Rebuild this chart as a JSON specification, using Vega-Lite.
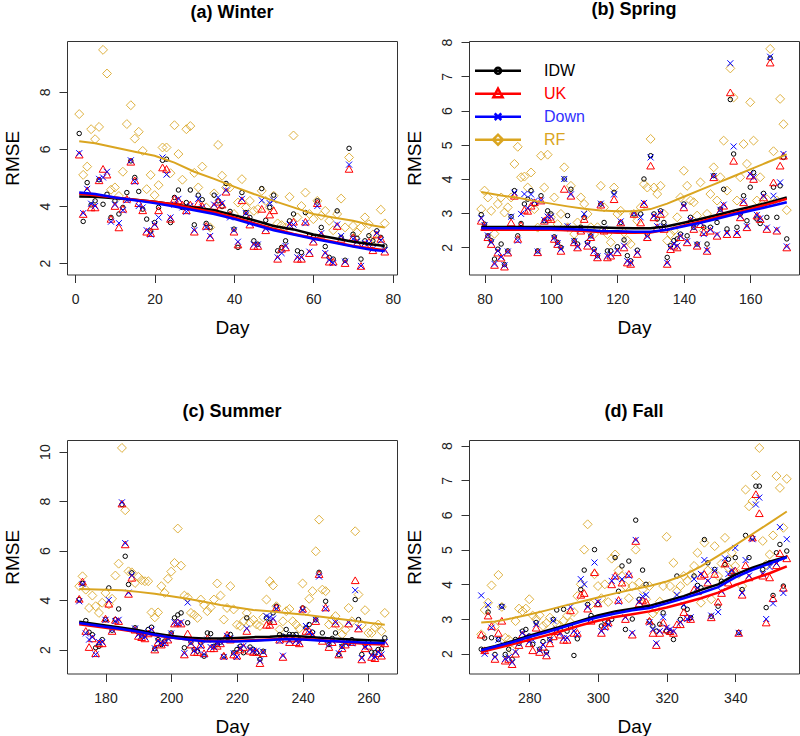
{
"$schema": "https://vega.github.io/schema/vega-lite/v6.json",
"background": "white",
"padding": {"left": 2, "top": 0, "right": 0, "bottom": 0},
"spacing": 64,
"datasets": {
"a": [
{"d":1,"IDW":6.54,"UK":5.80,"Down":5.85,"RF":7.22},{"d":2,"IDW":3.46,"UK":3.72,"Down":3.75,"RF":5.09},{"d":3,"IDW":4.82,"UK":4.55,"Down":4.60,"RF":5.38},{"d":4,"IDW":4.04,"UK":3.95,"Down":4.08,"RF":6.69},{"d":5,"IDW":4.18,"UK":3.95,"Down":4.00,"RF":6.34},{"d":6,"IDW":4.92,"UK":4.90,"Down":4.95,"RF":6.77},{"d":7,"IDW":4.06,"UK":5.30,"Down":5.00,"RF":9.47},{"d":8,"IDW":4.41,"UK":5.10,"Down":5.20,"RF":8.64},{"d":9,"IDW":3.60,"UK":3.55,"Down":3.45,"RF":4.57},{"d":10,"IDW":4.18,"UK":4.00,"Down":4.05,"RF":4.65},
{"d":11,"IDW":3.72,"UK":3.25,"Down":3.40,"RF":4.35},{"d":12,"IDW":3.95,"UK":3.90,"Down":3.85,"RF":5.20},{"d":13,"IDW":4.47,"UK":4.25,"Down":4.20,"RF":6.87},{"d":14,"IDW":5.58,"UK":5.55,"Down":5.60,"RF":7.53},{"d":15,"IDW":5.00,"UK":4.90,"Down":4.85,"RF":6.36},{"d":16,"IDW":4.51,"UK":4.10,"Down":4.00,"RF":6.60},{"d":17,"IDW":3.89,"UK":3.85,"Down":3.95,"RF":5.93},{"d":18,"IDW":3.54,"UK":3.10,"Down":3.15,"RF":4.59},{"d":19,"IDW":3.13,"UK":3.05,"Down":3.00,"RF":5.09},{"d":20,"IDW":3.42,"UK":3.30,"Down":3.35,"RF":4.38},
{"d":21,"IDW":3.95,"UK":3.85,"Down":3.60,"RF":4.73},{"d":22,"IDW":5.60,"UK":5.35,"Down":5.70,"RF":6.05},{"d":23,"IDW":5.64,"UK":5.30,"Down":5.10,"RF":6.05},{"d":24,"IDW":3.42,"UK":3.55,"Down":3.60,"RF":5.15},{"d":25,"IDW":4.30,"UK":4.25,"Down":4.05,"RF":6.83},{"d":26,"IDW":4.56,"UK":4.20,"Down":4.25,"RF":5.82},{"d":27,"IDW":3.95,"UK":4.05,"Down":3.95,"RF":4.92},{"d":28,"IDW":4.12,"UK":3.85,"Down":3.80,"RF":6.69},{"d":29,"IDW":4.56,"UK":4.05,"Down":4.00,"RF":6.80},{"d":30,"IDW":3.34,"UK":3.10,"Down":3.15,"RF":5.16},
{"d":31,"IDW":4.38,"UK":4.10,"Down":4.25,"RF":4.65},{"d":32,"IDW":4.22,"UK":4.00,"Down":3.95,"RF":5.38},{"d":33,"IDW":3.39,"UK":3.30,"Down":3.25,"RF":3.95},{"d":34,"IDW":3.25,"UK":2.90,"Down":2.95,"RF":3.25},{"d":35,"IDW":4.38,"UK":4.00,"Down":4.05,"RF":4.44},{"d":36,"IDW":4.18,"UK":4.15,"Down":4.30,"RF":6.14},{"d":37,"IDW":3.98,"UK":4.05,"Down":4.10,"RF":5.06},{"d":38,"IDW":4.79,"UK":4.50,"Down":4.55,"RF":4.65},{"d":39,"IDW":3.81,"UK":3.70,"Down":3.60,"RF":4.65},{"d":40,"IDW":3.19,"UK":3.10,"Down":3.15,"RF":3.72},
{"d":41,"IDW":2.55,"UK":2.65,"Down":2.75,"RF":4.12},{"d":42,"IDW":4.47,"UK":4.20,"Down":4.25,"RF":4.94},{"d":43,"IDW":3.77,"UK":3.70,"Down":3.75,"RF":3.95},{"d":44,"IDW":3.60,"UK":3.35,"Down":3.40,"RF":4.18},{"d":45,"IDW":2.78,"UK":2.60,"Down":2.65,"RF":3.83},{"d":46,"IDW":2.66,"UK":2.60,"Down":2.65,"RF":3.89},{"d":47,"IDW":4.61,"UK":3.90,"Down":4.20,"RF":4.53},{"d":48,"IDW":3.50,"UK":3.15,"Down":3.20,"RF":4.18},{"d":49,"IDW":3.95,"UK":3.70,"Down":4.10,"RF":3.95},{"d":50,"IDW":4.38,"UK":3.85,"Down":4.20,"RF":4.36},
{"d":51,"IDW":2.43,"UK":2.15,"Down":2.20,"RF":3.39},{"d":52,"IDW":2.55,"UK":2.50,"Down":2.35,"RF":3.33},{"d":53,"IDW":2.78,"UK":2.55,"Down":2.60,"RF":3.25},{"d":54,"IDW":3.48,"UK":3.30,"Down":3.35,"RF":4.32},{"d":55,"IDW":3.72,"UK":3.45,"Down":3.35,"RF":6.47},{"d":56,"IDW":2.43,"UK":2.15,"Down":2.20,"RF":3.60},{"d":57,"IDW":2.37,"UK":2.15,"Down":2.20,"RF":4.00},{"d":58,"IDW":3.77,"UK":3.45,"Down":3.40,"RF":4.47},{"d":59,"IDW":2.96,"UK":2.35,"Down":2.40,"RF":3.72},{"d":60,"IDW":2.90,"UK":2.75,"Down":2.80,"RF":3.54},
{"d":61,"IDW":4.18,"UK":4.10,"Down":4.00,"RF":4.18},{"d":62,"IDW":3.25,"UK":3.00,"Down":3.05,"RF":3.66},{"d":63,"IDW":2.58,"UK":2.30,"Down":2.35,"RF":3.83},{"d":64,"IDW":2.20,"UK":2.05,"Down":2.10,"RF":3.48},{"d":65,"IDW":2.14,"UK":2.05,"Down":2.00,"RF":3.15},{"d":66,"IDW":3.83,"UK":3.30,"Down":3.35,"RF":3.72},{"d":67,"IDW":2.90,"UK":2.85,"Down":2.95,"RF":4.26},{"d":68,"IDW":2.10,"UK":2.00,"Down":2.05,"RF":3.25},{"d":69,"IDW":6.02,"UK":5.30,"Down":5.45,"RF":5.70},{"d":70,"IDW":3.01,"UK":2.90,"Down":2.85,"RF":3.30},
{"d":71,"IDW":2.87,"UK":2.70,"Down":2.75,"RF":3.07},{"d":72,"IDW":2.14,"UK":1.90,"Down":1.90,"RF":3.25},{"d":73,"IDW":2.78,"UK":2.65,"Down":2.70,"RF":3.60},{"d":74,"IDW":2.96,"UK":2.75,"Down":2.70,"RF":3.36},{"d":75,"IDW":2.78,"UK":2.45,"Down":2.50,"RF":3.00},{"d":76,"IDW":3.13,"UK":3.00,"Down":3.05,"RF":2.78},{"d":77,"IDW":2.90,"UK":2.85,"Down":2.80,"RF":3.87},{"d":78,"IDW":2.60,"UK":2.40,"Down":2.45,"RF":3.39}
],
"la": [
{"d":1,"IDW":4.33,"UK":4.43,"Down":4.47,"RF":6.27},{"d":5,"IDW":4.32,"UK":4.38,"Down":4.42,"RF":6.20},{"d":10,"IDW":4.27,"UK":4.30,"Down":4.30,"RF":6.05},{"d":15,"IDW":4.22,"UK":4.22,"Down":4.20,"RF":5.90},{"d":20,"IDW":4.15,"UK":4.15,"Down":4.10,"RF":5.76},{"d":25,"IDW":4.05,"UK":4.05,"Down":3.98,"RF":5.52},{"d":30,"IDW":3.95,"UK":3.90,"Down":3.85,"RF":5.20},{"d":35,"IDW":3.85,"UK":3.78,"Down":3.72,"RF":4.95},{"d":40,"IDW":3.68,"UK":3.60,"Down":3.55,"RF":4.68},{"d":45,"IDW":3.50,"UK":3.40,"Down":3.35,"RF":4.42},{"d":50,"IDW":3.30,"UK":3.20,"Down":3.15,"RF":4.18},{"d":55,"IDW":3.18,"UK":3.02,"Down":3.00,"RF":3.95},{"d":60,"IDW":3.00,"UK":2.88,"Down":2.85,"RF":3.72},{"d":65,"IDW":2.88,"UK":2.75,"Down":2.72,"RF":3.60},{"d":70,"IDW":2.75,"UK":2.60,"Down":2.58,"RF":3.48},{"d":75,"IDW":2.65,"UK":2.50,"Down":2.46,"RF":3.32},{"d":78,"IDW":2.60,"UK":2.45,"Down":2.42,"RF":3.25}
],
"b": [
{"d":79,"IDW":2.96,"UK":2.78,"Down":2.85,"RF":3.12},{"d":80,"IDW":2.68,"UK":2.60,"Down":2.65,"RF":3.66},{"d":81,"IDW":2.34,"UK":2.30,"Down":2.35,"RF":3.46},{"d":82,"IDW":2.20,"UK":2.10,"Down":2.15,"RF":3.07},{"d":83,"IDW":1.66,"UK":1.49,"Down":1.52,"RF":2.40},{"d":84,"IDW":1.95,"UK":1.85,"Down":1.90,"RF":3.27},{"d":85,"IDW":2.10,"UK":1.70,"Down":1.72,"RF":3.46},{"d":86,"IDW":1.50,"UK":1.44,"Down":1.48,"RF":3.02},{"d":87,"IDW":1.90,"UK":1.85,"Down":1.88,"RF":3.17},{"d":88,"IDW":2.90,"UK":2.73,"Down":2.90,"RF":3.46},
{"d":89,"IDW":3.66,"UK":3.51,"Down":3.60,"RF":4.44},{"d":90,"IDW":2.34,"UK":2.25,"Down":2.20,"RF":4.94},{"d":91,"IDW":2.70,"UK":2.65,"Down":2.98,"RF":4.05},{"d":92,"IDW":3.27,"UK":3.10,"Down":3.56,"RF":4.07},{"d":93,"IDW":3.41,"UK":3.07,"Down":3.15,"RF":3.75},{"d":94,"IDW":3.66,"UK":3.22,"Down":3.55,"RF":4.19},{"d":95,"IDW":3.27,"UK":3.32,"Down":3.35,"RF":3.12},{"d":96,"IDW":1.90,"UK":1.86,"Down":1.88,"RF":2.58},{"d":97,"IDW":3.51,"UK":3.37,"Down":3.37,"RF":4.68},{"d":98,"IDW":2.78,"UK":2.78,"Down":2.80,"RF":3.75},
{"d":99,"IDW":3.07,"UK":2.88,"Down":2.90,"RF":4.71},{"d":100,"IDW":2.98,"UK":2.83,"Down":2.90,"RF":2.88},{"d":101,"IDW":2.31,"UK":2.25,"Down":2.28,"RF":3.46},{"d":102,"IDW":2.15,"UK":2.10,"Down":2.12,"RF":2.68},{"d":103,"IDW":2.00,"UK":1.90,"Down":1.95,"RF":2.98},{"d":104,"IDW":4.00,"UK":3.71,"Down":4.00,"RF":4.34},{"d":105,"IDW":2.93,"UK":2.59,"Down":2.62,"RF":2.59},{"d":106,"IDW":3.70,"UK":3.51,"Down":3.55,"RF":3.80},{"d":107,"IDW":2.20,"UK":2.15,"Down":2.18,"RF":2.39},{"d":108,"IDW":2.10,"UK":2.00,"Down":2.02,"RF":2.73},
{"d":109,"IDW":2.59,"UK":2.49,"Down":2.52,"RF":3.46},{"d":110,"IDW":2.88,"UK":2.83,"Down":2.98,"RF":3.27},{"d":111,"IDW":2.15,"UK":2.05,"Down":2.10,"RF":2.98},{"d":112,"IDW":2.34,"UK":2.30,"Down":2.32,"RF":2.59},{"d":113,"IDW":1.95,"UK":1.86,"Down":1.90,"RF":2.39},{"d":114,"IDW":1.76,"UK":1.71,"Down":1.74,"RF":2.59},{"d":115,"IDW":3.27,"UK":3.25,"Down":3.28,"RF":3.80},{"d":116,"IDW":2.73,"UK":2.49,"Down":2.55,"RF":3.17},{"d":117,"IDW":1.90,"UK":1.71,"Down":1.75,"RF":2.39},{"d":118,"IDW":1.90,"UK":1.76,"Down":1.80,"RF":2.15},
{"d":119,"IDW":3.61,"UK":3.41,"Down":3.55,"RF":3.75},{"d":120,"IDW":2.02,"UK":1.86,"Down":1.90,"RF":2.98},{"d":121,"IDW":2.73,"UK":2.73,"Down":2.76,"RF":3.07},{"d":122,"IDW":2.22,"UK":2.00,"Down":2.05,"RF":2.44},{"d":123,"IDW":1.76,"UK":1.56,"Down":1.60,"RF":2.20},{"d":124,"IDW":1.61,"UK":1.52,"Down":1.55,"RF":2.10},{"d":125,"IDW":2.98,"UK":2.98,"Down":3.00,"RF":2.98},{"d":126,"IDW":1.92,"UK":1.81,"Down":1.85,"RF":2.78},{"d":127,"IDW":2.98,"UK":2.73,"Down":2.88,"RF":3.17},{"d":128,"IDW":4.00,"UK":3.27,"Down":3.30,"RF":3.85},
{"d":129,"IDW":2.39,"UK":2.30,"Down":2.32,"RF":3.75},{"d":130,"IDW":4.68,"UK":4.39,"Down":4.63,"RF":5.17},{"d":131,"IDW":2.98,"UK":2.88,"Down":2.92,"RF":3.75},{"d":132,"IDW":2.83,"UK":2.59,"Down":2.62,"RF":3.56},{"d":133,"IDW":3.07,"UK":2.98,"Down":3.02,"RF":3.80},{"d":134,"IDW":2.73,"UK":2.54,"Down":2.60,"RF":2.98},{"d":135,"IDW":1.71,"UK":1.52,"Down":1.55,"RF":2.20},{"d":136,"IDW":2.05,"UK":1.95,"Down":2.00,"RF":2.39},{"d":137,"IDW":2.20,"UK":2.05,"Down":2.10,"RF":2.49},{"d":138,"IDW":2.25,"UK":2.00,"Down":2.05,"RF":2.88},
{"d":139,"IDW":2.39,"UK":2.30,"Down":2.33,"RF":3.46},{"d":140,"IDW":3.27,"UK":3.17,"Down":3.22,"RF":4.24},{"d":141,"IDW":2.34,"UK":2.15,"Down":2.18,"RF":3.80},{"d":142,"IDW":2.88,"UK":2.78,"Down":2.80,"RF":3.37},{"d":143,"IDW":2.59,"UK":2.54,"Down":2.58,"RF":3.32},{"d":144,"IDW":2.10,"UK":2.05,"Down":2.08,"RF":2.93},{"d":145,"IDW":2.78,"UK":2.68,"Down":2.72,"RF":3.90},{"d":146,"IDW":2.59,"UK":2.45,"Down":2.39,"RF":2.49},{"d":147,"IDW":2.10,"UK":1.90,"Down":1.92,"RF":2.98},{"d":148,"IDW":2.59,"UK":2.49,"Down":2.52,"RF":3.56},
{"d":149,"IDW":4.10,"UK":4.05,"Down":4.08,"RF":4.34},{"d":150,"IDW":2.73,"UK":2.34,"Down":2.38,"RF":3.37},{"d":151,"IDW":3.12,"UK":3.07,"Down":3.10,"RF":4.05},{"d":152,"IDW":3.70,"UK":3.22,"Down":3.25,"RF":5.12},{"d":153,"IDW":2.54,"UK":2.39,"Down":2.42,"RF":3.66},{"d":154,"IDW":6.32,"UK":6.53,"Down":7.38,"RF":7.23},{"d":155,"IDW":4.73,"UK":4.53,"Down":4.95,"RF":6.38},{"d":156,"IDW":2.59,"UK":2.39,"Down":2.42,"RF":3.37},{"d":157,"IDW":2.98,"UK":2.88,"Down":2.92,"RF":4.05},{"d":158,"IDW":3.51,"UK":3.32,"Down":3.35,"RF":5.02},
{"d":159,"IDW":2.78,"UK":2.59,"Down":2.62,"RF":4.44},{"d":160,"IDW":3.76,"UK":4.10,"Down":4.14,"RF":6.24},{"d":161,"IDW":4.19,"UK":4.00,"Down":4.05,"RF":5.12},{"d":162,"IDW":2.83,"UK":2.93,"Down":2.95,"RF":3.37},{"d":163,"IDW":2.70,"UK":2.83,"Down":2.85,"RF":4.05},{"d":164,"IDW":3.58,"UK":3.46,"Down":3.50,"RF":3.37},{"d":165,"IDW":2.88,"UK":2.54,"Down":2.58,"RF":3.41},{"d":166,"IDW":7.53,"UK":7.40,"Down":7.57,"RF":7.80},{"d":167,"IDW":3.76,"UK":3.90,"Down":3.51,"RF":4.81},{"d":168,"IDW":2.88,"UK":2.49,"Down":2.52,"RF":3.37},
{"d":169,"IDW":3.80,"UK":4.39,"Down":3.90,"RF":6.34},{"d":170,"IDW":4.63,"UK":4.68,"Down":4.73,"RF":5.60},{"d":171,"IDW":2.25,"UK":2.00,"Down":2.03,"RF":3.09}
],
"lb": [
{"d":79,"IDW":2.60,"UK":2.52,"Down":2.56,"RF":3.62},{"d":85,"IDW":2.60,"UK":2.52,"Down":2.56,"RF":3.52},{"d":90,"IDW":2.60,"UK":2.52,"Down":2.56,"RF":3.45},{"d":95,"IDW":2.60,"UK":2.52,"Down":2.55,"RF":3.36},{"d":100,"IDW":2.60,"UK":2.52,"Down":2.55,"RF":3.28},{"d":105,"IDW":2.60,"UK":2.50,"Down":2.54,"RF":3.20},{"d":110,"IDW":2.60,"UK":2.48,"Down":2.52,"RF":3.13},{"d":115,"IDW":2.58,"UK":2.45,"Down":2.48,"RF":3.08},{"d":120,"IDW":2.57,"UK":2.43,"Down":2.47,"RF":3.06},{"d":125,"IDW":2.56,"UK":2.43,"Down":2.46,"RF":3.06},{"d":130,"IDW":2.56,"UK":2.44,"Down":2.46,"RF":3.12},{"d":135,"IDW":2.62,"UK":2.52,"Down":2.52,"RF":3.28},{"d":140,"IDW":2.72,"UK":2.64,"Down":2.62,"RF":3.48},{"d":145,"IDW":2.83,"UK":2.76,"Down":2.72,"RF":3.68},{"d":150,"IDW":2.95,"UK":2.88,"Down":2.84,"RF":3.88},{"d":155,"IDW":3.07,"UK":3.00,"Down":2.96,"RF":4.08},{"d":160,"IDW":3.18,"UK":3.12,"Down":3.07,"RF":4.28},{"d":165,"IDW":3.30,"UK":3.25,"Down":3.18,"RF":4.48},{"d":171,"IDW":3.46,"UK":3.42,"Down":3.32,"RF":4.72}
],
"c": [
{"d":172,"IDW":4.02,"UK":4.05,"Down":3.95,"RF":4.56},{"d":173,"IDW":4.67,"UK":4.75,"Down":4.65,"RF":4.96},{"d":174,"IDW":3.17,"UK":2.75,"Down":2.65,"RF":4.42},{"d":175,"IDW":2.70,"UK":2.10,"Down":2.40,"RF":3.68},{"d":176,"IDW":2.60,"UK":2.45,"Down":2.50,"RF":4.18},{"d":177,"IDW":2.07,"UK":1.85,"Down":1.80,"RF":3.75},{"d":178,"IDW":2.13,"UK":2.25,"Down":2.30,"RF":3.48},{"d":179,"IDW":2.40,"UK":2.25,"Down":2.30,"RF":3.89},{"d":180,"IDW":3.21,"UK":3.25,"Down":3.20,"RF":4.29},{"d":181,"IDW":4.49,"UK":3.85,"Down":4.00,"RF":3.82},
{"d":182,"IDW":2.78,"UK":2.75,"Down":2.80,"RF":4.05},{"d":183,"IDW":3.21,"UK":3.20,"Down":3.15,"RF":4.99},{"d":184,"IDW":3.64,"UK":3.15,"Down":3.20,"RF":5.47},{"d":185,"IDW":7.86,"UK":7.90,"Down":7.95,"RF":10.15},{"d":186,"IDW":5.77,"UK":6.25,"Down":6.30,"RF":7.63},{"d":187,"IDW":4.63,"UK":4.25,"Down":4.30,"RF":5.16},{"d":188,"IDW":5.10,"UK":4.90,"Down":5.00,"RF":5.12},{"d":189,"IDW":2.88,"UK":2.80,"Down":2.85,"RF":4.69},{"d":190,"IDW":2.70,"UK":2.55,"Down":2.60,"RF":4.94},{"d":191,"IDW":2.54,"UK":2.50,"Down":2.55,"RF":4.80},
{"d":192,"IDW":2.60,"UK":2.45,"Down":2.50,"RF":4.76},{"d":193,"IDW":2.81,"UK":2.65,"Down":2.70,"RF":4.76},{"d":194,"IDW":2.90,"UK":2.75,"Down":2.80,"RF":3.50},{"d":195,"IDW":2.03,"UK":2.00,"Down":2.05,"RF":3.30},{"d":196,"IDW":2.40,"UK":2.30,"Down":2.35,"RF":3.50},{"d":197,"IDW":2.20,"UK":2.20,"Down":2.25,"RF":4.56},{"d":198,"IDW":2.34,"UK":2.30,"Down":2.25,"RF":4.29},{"d":199,"IDW":2.50,"UK":2.40,"Down":2.45,"RF":4.86},{"d":200,"IDW":2.67,"UK":2.60,"Down":2.65,"RF":5.15},{"d":201,"IDW":3.28,"UK":3.05,"Down":3.10,"RF":5.50},
{"d":202,"IDW":3.40,"UK":3.10,"Down":3.05,"RF":6.89},{"d":203,"IDW":3.48,"UK":3.05,"Down":3.10,"RF":5.39},{"d":204,"IDW":2.07,"UK":1.80,"Down":1.85,"RF":4.18},{"d":205,"IDW":3.08,"UK":2.65,"Down":3.90,"RF":4.11},{"d":206,"IDW":2.30,"UK":2.20,"Down":2.25,"RF":3.48},{"d":207,"IDW":2.00,"UK":1.90,"Down":1.95,"RF":3.40},{"d":208,"IDW":1.93,"UK":1.90,"Down":2.00,"RF":3.28},{"d":209,"IDW":2.30,"UK":2.20,"Down":2.15,"RF":4.02},{"d":210,"IDW":1.73,"UK":1.85,"Down":1.80,"RF":3.80},{"d":211,"IDW":2.67,"UK":2.45,"Down":2.40,"RF":3.55},
{"d":212,"IDW":2.64,"UK":2.05,"Down":2.10,"RF":3.70},{"d":213,"IDW":2.13,"UK":2.05,"Down":2.10,"RF":4.02},{"d":214,"IDW":2.20,"UK":2.15,"Down":2.25,"RF":4.67},{"d":215,"IDW":2.30,"UK":2.25,"Down":2.30,"RF":4.18},{"d":216,"IDW":1.73,"UK":1.75,"Down":1.70,"RF":3.21},{"d":217,"IDW":2.50,"UK":2.60,"Down":2.55,"RF":3.68},{"d":218,"IDW":2.61,"UK":2.40,"Down":2.45,"RF":4.56},{"d":219,"IDW":1.87,"UK":1.80,"Down":1.85,"RF":3.62},{"d":220,"IDW":2.00,"UK":1.75,"Down":1.70,"RF":3.00},{"d":221,"IDW":2.13,"UK":2.00,"Down":2.05,"RF":2.95},
{"d":222,"IDW":1.87,"UK":2.10,"Down":2.15,"RF":3.14},{"d":223,"IDW":3.28,"UK":2.75,"Down":2.85,"RF":3.48},{"d":224,"IDW":2.10,"UK":1.95,"Down":2.00,"RF":3.08},{"d":225,"IDW":2.00,"UK":1.90,"Down":1.95,"RF":3.20},{"d":226,"IDW":1.87,"UK":1.90,"Down":1.95,"RF":3.01},{"d":227,"IDW":1.60,"UK":1.45,"Down":1.55,"RF":2.95},{"d":228,"IDW":1.93,"UK":1.85,"Down":1.90,"RF":3.30},{"d":229,"IDW":3.28,"UK":3.00,"Down":3.35,"RF":4.02},{"d":230,"IDW":3.10,"UK":3.00,"Down":3.30,"RF":4.76},{"d":231,"IDW":3.48,"UK":3.15,"Down":3.25,"RF":4.59},
{"d":232,"IDW":3.75,"UK":3.70,"Down":3.65,"RF":3.75},{"d":233,"IDW":2.60,"UK":2.40,"Down":2.35,"RF":2.81},{"d":234,"IDW":2.54,"UK":1.70,"Down":1.75,"RF":3.14},{"d":235,"IDW":2.81,"UK":2.45,"Down":2.50,"RF":3.55},{"d":236,"IDW":2.61,"UK":2.30,"Down":2.35,"RF":3.64},{"d":237,"IDW":2.60,"UK":2.45,"Down":2.50,"RF":3.14},{"d":238,"IDW":2.61,"UK":2.30,"Down":2.35,"RF":3.01},{"d":239,"IDW":2.40,"UK":2.25,"Down":2.30,"RF":2.85},{"d":240,"IDW":3.68,"UK":3.65,"Down":3.60,"RF":4.67},{"d":241,"IDW":2.88,"UK":2.75,"Down":2.95,"RF":3.55},
{"d":242,"IDW":3.01,"UK":2.75,"Down":2.70,"RF":4.05},{"d":243,"IDW":2.70,"UK":2.55,"Down":2.60,"RF":4.36},{"d":244,"IDW":3.20,"UK":3.15,"Down":3.20,"RF":5.97},{"d":245,"IDW":5.12,"UK":5.05,"Down":4.95,"RF":7.25},{"d":246,"IDW":2.67,"UK":2.35,"Down":2.40,"RF":4.42},{"d":247,"IDW":3.95,"UK":3.70,"Down":3.65,"RF":4.36},{"d":248,"IDW":2.20,"UK":2.10,"Down":2.20,"RF":3.01},{"d":249,"IDW":2.45,"UK":2.30,"Down":2.35,"RF":3.20},{"d":250,"IDW":2.67,"UK":3.05,"Down":3.10,"RF":3.35},{"d":251,"IDW":1.80,"UK":1.80,"Down":1.85,"RF":2.95},
{"d":252,"IDW":2.13,"UK":2.05,"Down":2.10,"RF":2.61},{"d":253,"IDW":2.30,"UK":2.20,"Down":2.25,"RF":2.80},{"d":254,"IDW":2.27,"UK":3.05,"Down":3.10,"RF":3.68},{"d":255,"IDW":2.40,"UK":2.30,"Down":2.25,"RF":3.14},{"d":256,"IDW":4.02,"UK":4.80,"Down":4.40,"RF":6.78},{"d":257,"IDW":3.21,"UK":2.85,"Down":2.90,"RF":4.22},{"d":258,"IDW":1.80,"UK":1.60,"Down":1.65,"RF":3.00},{"d":259,"IDW":2.20,"UK":2.05,"Down":2.10,"RF":3.59},{"d":260,"IDW":2.30,"UK":2.15,"Down":2.20,"RF":2.67},{"d":261,"IDW":1.89,"UK":1.70,"Down":1.75,"RF":2.67},
{"d":262,"IDW":1.87,"UK":1.65,"Down":1.70,"RF":2.90},{"d":263,"IDW":2.00,"UK":1.85,"Down":1.90,"RF":3.01},{"d":264,"IDW":2.03,"UK":1.75,"Down":1.80,"RF":2.74},{"d":265,"IDW":2.47,"UK":2.25,"Down":2.30,"RF":3.48}
],
"lc": [
{"d":172,"IDW":3.12,"UK":3.02,"Down":3.07,"RF":4.45},{"d":180,"IDW":2.97,"UK":2.88,"Down":2.92,"RF":4.42},{"d":185,"IDW":2.88,"UK":2.80,"Down":2.83,"RF":4.40},{"d":190,"IDW":2.78,"UK":2.70,"Down":2.72,"RF":4.33},{"d":195,"IDW":2.65,"UK":2.58,"Down":2.60,"RF":4.25},{"d":200,"IDW":2.55,"UK":2.48,"Down":2.48,"RF":4.15},{"d":205,"IDW":2.48,"UK":2.40,"Down":2.40,"RF":4.05},{"d":210,"IDW":2.45,"UK":2.35,"Down":2.33,"RF":3.93},{"d":215,"IDW":2.45,"UK":2.33,"Down":2.32,"RF":3.80},{"d":220,"IDW":2.47,"UK":2.35,"Down":2.32,"RF":3.70},{"d":225,"IDW":2.50,"UK":2.37,"Down":2.35,"RF":3.60},{"d":230,"IDW":2.52,"UK":2.40,"Down":2.38,"RF":3.55},{"d":235,"IDW":2.56,"UK":2.43,"Down":2.42,"RF":3.48},{"d":240,"IDW":2.53,"UK":2.42,"Down":2.40,"RF":3.42},{"d":245,"IDW":2.48,"UK":2.38,"Down":2.36,"RF":3.33},{"d":250,"IDW":2.44,"UK":2.33,"Down":2.33,"RF":3.25},{"d":255,"IDW":2.40,"UK":2.27,"Down":2.30,"RF":3.17},{"d":260,"IDW":2.37,"UK":2.22,"Down":2.27,"RF":3.08},{"d":265,"IDW":2.35,"UK":2.20,"Down":2.25,"RF":3.00}
],
"dd": [
{"d":266,"IDW":2.13,"UK":2.55,"Down":3.68,"RF":2.56},{"d":267,"IDW":2.45,"UK":2.10,"Down":2.00,"RF":3.26},{"d":268,"IDW":3.20,"UK":3.10,"Down":3.40,"RF":3.47},{"d":269,"IDW":2.46,"UK":2.80,"Down":2.75,"RF":3.97},{"d":270,"IDW":1.98,"UK":1.85,"Down":1.90,"RF":2.78},{"d":271,"IDW":2.41,"UK":2.60,"Down":2.40,"RF":4.27},{"d":272,"IDW":3.37,"UK":2.95,"Down":3.35,"RF":3.35},{"d":273,"IDW":1.98,"UK":1.80,"Down":1.85,"RF":2.46},{"d":274,"IDW":2.13,"UK":1.85,"Down":1.90,"RF":2.41},{"d":275,"IDW":1.84,"UK":1.70,"Down":1.75,"RF":2.10},
{"d":276,"IDW":2.41,"UK":2.00,"Down":2.05,"RF":2.94},{"d":277,"IDW":2.30,"UK":2.25,"Down":2.30,"RF":3.30},{"d":278,"IDW":2.65,"UK":2.55,"Down":2.60,"RF":3.23},{"d":279,"IDW":2.70,"UK":2.45,"Down":2.50,"RF":3.30},{"d":280,"IDW":2.51,"UK":2.30,"Down":2.35,"RF":3.57},{"d":281,"IDW":2.27,"UK":2.10,"Down":2.40,"RF":3.10},{"d":282,"IDW":2.90,"UK":2.75,"Down":2.85,"RF":3.00},{"d":283,"IDW":2.13,"UK":2.05,"Down":2.10,"RF":3.11},{"d":284,"IDW":2.35,"UK":2.20,"Down":2.25,"RF":2.80},{"d":285,"IDW":2.05,"UK":1.95,"Down":2.00,"RF":2.88},
{"d":286,"IDW":2.41,"UK":2.30,"Down":2.40,"RF":3.04},{"d":287,"IDW":2.99,"UK":2.50,"Down":2.95,"RF":2.63},{"d":288,"IDW":3.26,"UK":2.65,"Down":2.70,"RF":2.85},{"d":289,"IDW":2.70,"UK":2.55,"Down":2.60,"RF":2.80},{"d":290,"IDW":3.28,"UK":2.40,"Down":2.45,"RF":2.95},{"d":291,"IDW":2.65,"UK":2.40,"Down":2.45,"RF":3.09},{"d":292,"IDW":2.78,"UK":3.25,"Down":3.35,"RF":2.90},{"d":293,"IDW":1.95,"UK":2.60,"Down":2.65,"RF":3.20},{"d":294,"IDW":2.43,"UK":2.60,"Down":2.55,"RF":3.66},{"d":295,"IDW":3.85,"UK":3.70,"Down":4.15,"RF":4.00},
{"d":296,"IDW":4.41,"UK":3.75,"Down":4.00,"RF":5.00},{"d":297,"IDW":3.42,"UK":3.30,"Down":3.35,"RF":5.73},{"d":298,"IDW":3.10,"UK":2.95,"Down":3.00,"RF":3.42},{"d":299,"IDW":5.00,"UK":4.35,"Down":4.63,"RF":4.29},{"d":300,"IDW":3.42,"UK":3.45,"Down":3.50,"RF":3.95},{"d":301,"IDW":2.80,"UK":2.60,"Down":2.65,"RF":3.60},{"d":302,"IDW":2.94,"UK":2.80,"Down":2.75,"RF":4.00},{"d":303,"IDW":2.90,"UK":2.90,"Down":2.85,"RF":3.49},{"d":304,"IDW":2.99,"UK":4.00,"Down":4.10,"RF":4.74},{"d":305,"IDW":4.77,"UK":4.25,"Down":4.20,"RF":4.86},
{"d":306,"IDW":3.80,"UK":3.55,"Down":3.50,"RF":4.40},{"d":307,"IDW":4.53,"UK":4.05,"Down":4.15,"RF":4.24},{"d":308,"IDW":2.70,"UK":3.00,"Down":3.05,"RF":3.95},{"d":309,"IDW":4.67,"UK":4.30,"Down":4.25,"RF":3.60},{"d":310,"IDW":3.00,"UK":2.55,"Down":2.60,"RF":3.95},{"d":311,"IDW":5.85,"UK":5.25,"Down":5.28,"RF":5.00},{"d":312,"IDW":3.57,"UK":3.45,"Down":3.50,"RF":4.05},{"d":313,"IDW":4.41,"UK":3.55,"Down":3.65,"RF":3.85},{"d":314,"IDW":4.00,"UK":3.50,"Down":3.70,"RF":3.57},{"d":315,"IDW":2.94,"UK":2.95,"Down":2.90,"RF":3.95},
{"d":316,"IDW":2.80,"UK":2.60,"Down":2.70,"RF":3.16},{"d":317,"IDW":2.65,"UK":2.25,"Down":2.30,"RF":3.28},{"d":318,"IDW":2.85,"UK":2.60,"Down":2.65,"RF":3.50},{"d":319,"IDW":3.18,"UK":2.90,"Down":3.05,"RF":3.95},{"d":320,"IDW":2.65,"UK":2.70,"Down":2.75,"RF":5.37},{"d":321,"IDW":2.61,"UK":2.65,"Down":2.70,"RF":3.95},{"d":322,"IDW":2.41,"UK":2.60,"Down":2.65,"RF":4.62},{"d":323,"IDW":4.24,"UK":2.85,"Down":3.70,"RF":3.80},{"d":324,"IDW":2.99,"UK":2.85,"Down":2.90,"RF":3.95},{"d":325,"IDW":3.33,"UK":3.20,"Down":3.40,"RF":4.24},
{"d":326,"IDW":3.28,"UK":3.05,"Down":3.00,"RF":4.10},{"d":327,"IDW":3.04,"UK":3.00,"Down":3.05,"RF":4.29},{"d":328,"IDW":4.24,"UK":3.85,"Down":4.15,"RF":4.53},{"d":329,"IDW":3.97,"UK":3.80,"Down":3.90,"RF":4.91},{"d":330,"IDW":3.90,"UK":4.25,"Down":4.30,"RF":3.47},{"d":331,"IDW":5.29,"UK":4.30,"Down":4.70,"RF":5.20},{"d":332,"IDW":4.62,"UK":4.05,"Down":4.10,"RF":4.40},{"d":333,"IDW":3.08,"UK":3.05,"Down":3.10,"RF":3.57},{"d":334,"IDW":4.43,"UK":4.30,"Down":4.40,"RF":5.10},{"d":335,"IDW":3.37,"UK":3.50,"Down":3.20,"RF":4.24},
{"d":336,"IDW":4.09,"UK":3.75,"Down":3.80,"RF":4.60},{"d":337,"IDW":4.57,"UK":4.60,"Down":4.75,"RF":5.34},{"d":338,"IDW":4.72,"UK":4.05,"Down":4.30,"RF":4.48},{"d":339,"IDW":4.35,"UK":4.35,"Down":4.40,"RF":4.91},{"d":340,"IDW":4.77,"UK":4.40,"Down":5.05,"RF":4.53},{"d":341,"IDW":2.61,"UK":2.60,"Down":2.60,"RF":4.30},{"d":342,"IDW":3.85,"UK":3.70,"Down":3.75,"RF":3.95},{"d":343,"IDW":5.41,"UK":4.55,"Down":4.70,"RF":6.73},{"d":344,"IDW":4.77,"UK":4.20,"Down":4.25,"RF":6.25},{"d":345,"IDW":5.34,"UK":5.35,"Down":5.30,"RF":6.40},
{"d":346,"IDW":6.83,"UK":6.60,"Down":6.30,"RF":7.14},{"d":347,"IDW":6.83,"UK":6.05,"Down":6.50,"RF":7.93},{"d":348,"IDW":4.43,"UK":4.25,"Down":4.30,"RF":5.25},{"d":349,"IDW":3.33,"UK":2.90,"Down":3.00,"RF":4.57},{"d":350,"IDW":4.62,"UK":4.20,"Down":4.50,"RF":4.86},{"d":351,"IDW":3.68,"UK":3.60,"Down":3.45,"RF":5.41},{"d":352,"IDW":4.91,"UK":4.55,"Down":4.60,"RF":7.12},{"d":353,"IDW":5.15,"UK":4.90,"Down":5.65,"RF":6.78},{"d":354,"IDW":3.95,"UK":3.90,"Down":3.75,"RF":5.63},{"d":355,"IDW":4.96,"UK":4.75,"Down":5.30,"RF":7.04}
],
"ld": [
{"d":266,"IDW":2.12,"UK":2.05,"Down":2.10,"RF":2.90},{"d":270,"IDW":2.22,"UK":2.15,"Down":2.20,"RF":2.93},{"d":275,"IDW":2.36,"UK":2.27,"Down":2.33,"RF":3.02},{"d":280,"IDW":2.52,"UK":2.40,"Down":2.48,"RF":3.13},{"d":285,"IDW":2.66,"UK":2.53,"Down":2.62,"RF":3.25},{"d":290,"IDW":2.80,"UK":2.67,"Down":2.77,"RF":3.38},{"d":295,"IDW":2.95,"UK":2.82,"Down":2.92,"RF":3.50},{"d":300,"IDW":3.10,"UK":2.95,"Down":3.05,"RF":3.62},{"d":305,"IDW":3.22,"UK":3.06,"Down":3.16,"RF":3.74},{"d":310,"IDW":3.30,"UK":3.14,"Down":3.25,"RF":3.85},{"d":315,"IDW":3.38,"UK":3.22,"Down":3.32,"RF":3.95},{"d":320,"IDW":3.52,"UK":3.33,"Down":3.45,"RF":4.08},{"d":325,"IDW":3.66,"UK":3.46,"Down":3.60,"RF":4.26},{"d":330,"IDW":3.84,"UK":3.60,"Down":3.75,"RF":4.52},{"d":335,"IDW":4.00,"UK":3.76,"Down":3.92,"RF":4.82},{"d":340,"IDW":4.28,"UK":3.98,"Down":4.20,"RF":5.13},{"d":345,"IDW":4.48,"UK":4.15,"Down":4.42,"RF":5.45},{"d":350,"IDW":4.65,"UK":4.32,"Down":4.60,"RF":5.77},{"d":355,"IDW":4.80,"UK":4.52,"Down":4.78,"RF":6.10}
]
},
"vconcat": [
{"hconcat": [
{"width": 330, "height": 233.5, "title": {"text": "(a) Winter"},
 "encoding": {
  "x": {"field": "d", "type": "quantitative", "title": "Day", "scale": {"domain": [-2.08, 81.08], "nice": false, "zero": false}, "axis": {"values": [0, 20, 40, 60, 80]}},
  "y": {"field": "v", "type": "quantitative", "title": "RMSE", "scale": {"domain": [1.60, 9.78], "nice": false, "zero": false}, "axis": {"values": [2, 4, 6, 8]}}},
 "layer": [
  {"data": {"name": "a"}, "transform": [{"fold": ["RF"], "as": ["s", "v"]}], "mark": {"type": "point", "shape": "diamond", "size": 80, "filled": false, "color": "#DAA520", "strokeWidth": 1, "opacity": 0.85}},
  {"data": {"name": "a"}, "transform": [{"fold": ["IDW"], "as": ["s", "v"]}], "mark": {"type": "point", "shape": "circle", "size": 20, "filled": false, "color": "#000000", "strokeWidth": 1, "opacity": 1}},
  {"data": {"name": "a"}, "transform": [{"fold": ["UK"], "as": ["s", "v"]}], "mark": {"type": "point", "shape": "triangle-up", "size": 60, "filled": false, "color": "#FF0000", "strokeWidth": 1, "opacity": 1}},
  {"data": {"name": "a"}, "transform": [{"fold": ["Down"], "as": ["s", "v"]}], "mark": {"type": "point", "shape": "M-1,-1L1,1M-1,1L1,-1", "size": 36, "filled": false, "color": "#0000FF", "strokeWidth": 1, "opacity": 1}},
  {"data": {"name": "la"}, "transform": [{"fold": ["IDW"], "as": ["s", "v"]}], "mark": {"type": "line", "color": "#000000", "strokeWidth": 2.5}},
  {"data": {"name": "la"}, "transform": [{"fold": ["UK"], "as": ["s", "v"]}], "mark": {"type": "line", "color": "#FF0000", "strokeWidth": 2.5}},
  {"data": {"name": "la"}, "transform": [{"fold": ["Down"], "as": ["s", "v"]}], "mark": {"type": "line", "color": "#0000FF", "strokeWidth": 2.5}},
  {"data": {"name": "la"}, "transform": [{"fold": ["RF"], "as": ["s", "v"]}], "mark": {"type": "line", "color": "#DAA520", "strokeWidth": 2}}
 ]},
{"width": 330, "height": 233.5, "title": {"text": "(b) Spring"},
 "encoding": {
  "x": {"field": "d", "type": "quantitative", "title": "Day", "scale": {"domain": [75.32, 174.68], "nice": false, "zero": false}, "axis": {"values": [80, 100, 120, 140, 160]}},
  "y": {"field": "v", "type": "quantitative", "title": "RMSE", "scale": {"domain": [1.21, 8.03], "nice": false, "zero": false}, "axis": {"values": [2, 3, 4, 5, 6, 7, 8]}}},
 "layer": [
  {"data": {"name": "b"}, "transform": [{"fold": ["RF"], "as": ["s", "v"]}], "mark": {"type": "point", "shape": "diamond", "size": 80, "filled": false, "color": "#DAA520", "strokeWidth": 1, "opacity": 0.85}},
  {"data": {"name": "b"}, "transform": [{"fold": ["IDW"], "as": ["s", "v"]}], "mark": {"type": "point", "shape": "circle", "size": 20, "filled": false, "color": "#000000", "strokeWidth": 1, "opacity": 1}},
  {"data": {"name": "b"}, "transform": [{"fold": ["UK"], "as": ["s", "v"]}], "mark": {"type": "point", "shape": "triangle-up", "size": 60, "filled": false, "color": "#FF0000", "strokeWidth": 1, "opacity": 1}},
  {"data": {"name": "b"}, "transform": [{"fold": ["Down"], "as": ["s", "v"]}], "mark": {"type": "point", "shape": "M-1,-1L1,1M-1,1L1,-1", "size": 36, "filled": false, "color": "#0000FF", "strokeWidth": 1, "opacity": 1}},
  {"data": {"name": "lb"}, "transform": [{"fold": ["IDW"], "as": ["s", "v"]}], "mark": {"type": "line", "color": "#000000", "strokeWidth": 2.5}},
  {"data": {"name": "lb"}, "transform": [{"fold": ["UK"], "as": ["s", "v"]}], "mark": {"type": "line", "color": "#FF0000", "strokeWidth": 2.5}},
  {"data": {"name": "lb"}, "transform": [{"fold": ["Down"], "as": ["s", "v"]}], "mark": {"type": "line", "color": "#0000FF", "strokeWidth": 2.5}},
  {"data": {"name": "lb"}, "transform": [{"fold": ["RF"], "as": ["s", "v"]}], "mark": {"type": "line", "color": "#DAA520", "strokeWidth": 2}},
  {"data": {"name": "lb"}, "transform": [{"fold": ["IDW", "UK", "Down", "RF"], "as": ["s", "v"]}], "mark": {"type": "point", "filled": false, "opacity": 0, "size": 400, "strokeWidth": 2.5},
   "encoding": {
    "color": {"field": "s", "type": "nominal", "scale": {"domain": ["IDW", "UK", "Down", "RF"], "range": ["#000000", "#FF0000", "#0000FF", "#DAA520"]},
      "legend": {"title": null, "orient": "none", "legendX": 419.5, "legendY": 18.2, "padding": 0, "labelFont": "Liberation Sans", "labelFontSize": 16, "labelOffset": 34.5, "symbolOpacity": 1, "symbolStrokeWidth": 2.5, "symbolSize": 400, "rowPadding": 3, "labelLimit": 0,
        "labelColor": {"expr": "datum.label === 'UK' ? '#FF0000' : datum.label === 'Down' ? '#3030FF' : datum.label === 'RF' ? '#DAA520' : '#000000'"}}},
    "shape": {"field": "s", "type": "nominal", "scale": {"domain": ["IDW", "UK", "Down", "RF"], "range": [
      "M-2.3,0L2.3,0M-0.3,0A0.3,0.3,0,1,0,0.3,0A0.3,0.3,0,1,0,-0.3,0",
      "M-2.3,0L2.3,0M-0.46,0.35L0,-0.5L0.46,0.35Z",
      "M-2.3,0L2.3,0M-0.33,-0.33L0.33,0.33M-0.33,0.33L0.33,-0.33",
      "M-2.3,0L2.3,0M-0.5,0L0,-0.5L0.5,0L0,0.5Z"]},
      "legend": {"title": null, "orient": "none", "legendX": 419.5, "legendY": 18.2, "padding": 0, "labelFont": "Liberation Sans", "labelFontSize": 16, "labelOffset": 34.5, "symbolOpacity": 1, "symbolStrokeWidth": 2.5, "symbolSize": 400, "rowPadding": 3, "labelLimit": 0,
        "labelColor": {"expr": "datum.label === 'UK' ? '#FF0000' : datum.label === 'Down' ? '#3030FF' : datum.label === 'RF' ? '#DAA520' : '#000000'"}}}
   }}
 ]}
], "spacing": 72, "bounds": "flush"},
{"hconcat": [
{"width": 330, "height": 233.5, "title": {"text": "(c) Summer"},
 "encoding": {
  "x": {"field": "d", "type": "quantitative", "title": "Day", "scale": {"domain": [168.28, 268.72], "nice": false, "zero": false}, "axis": {"values": [180, 200, 220, 240, 260]}},
  "y": {"field": "v", "type": "quantitative", "title": "RMSE", "scale": {"domain": [1.03, 10.47], "nice": false, "zero": false}, "axis": {"values": [2, 4, 6, 8, 10]}}},
 "layer": [
  {"data": {"name": "c"}, "transform": [{"fold": ["RF"], "as": ["s", "v"]}], "mark": {"type": "point", "shape": "diamond", "size": 80, "filled": false, "color": "#DAA520", "strokeWidth": 1, "opacity": 0.85}},
  {"data": {"name": "c"}, "transform": [{"fold": ["IDW"], "as": ["s", "v"]}], "mark": {"type": "point", "shape": "circle", "size": 20, "filled": false, "color": "#000000", "strokeWidth": 1, "opacity": 1}},
  {"data": {"name": "c"}, "transform": [{"fold": ["UK"], "as": ["s", "v"]}], "mark": {"type": "point", "shape": "triangle-up", "size": 60, "filled": false, "color": "#FF0000", "strokeWidth": 1, "opacity": 1}},
  {"data": {"name": "c"}, "transform": [{"fold": ["Down"], "as": ["s", "v"]}], "mark": {"type": "point", "shape": "M-1,-1L1,1M-1,1L1,-1", "size": 36, "filled": false, "color": "#0000FF", "strokeWidth": 1, "opacity": 1}},
  {"data": {"name": "lc"}, "transform": [{"fold": ["IDW"], "as": ["s", "v"]}], "mark": {"type": "line", "color": "#000000", "strokeWidth": 2.5}},
  {"data": {"name": "lc"}, "transform": [{"fold": ["UK"], "as": ["s", "v"]}], "mark": {"type": "line", "color": "#FF0000", "strokeWidth": 2.5}},
  {"data": {"name": "lc"}, "transform": [{"fold": ["Down"], "as": ["s", "v"]}], "mark": {"type": "line", "color": "#0000FF", "strokeWidth": 2.5}},
  {"data": {"name": "lc"}, "transform": [{"fold": ["RF"], "as": ["s", "v"]}], "mark": {"type": "line", "color": "#DAA520", "strokeWidth": 2}}
 ]},
{"width": 330, "height": 233.5, "title": {"text": "(d) Fall"},
 "encoding": {
  "x": {"field": "d", "type": "quantitative", "title": "Day", "scale": {"domain": [262.44, 358.56], "nice": false, "zero": false}, "axis": {"values": [280, 300, 320, 340]}},
  "y": {"field": "v", "type": "quantitative", "title": "RMSE", "scale": {"domain": [1.43, 8.16], "nice": false, "zero": false}, "axis": {"values": [2, 3, 4, 5, 6, 7, 8]}}},
 "layer": [
  {"data": {"name": "dd"}, "transform": [{"fold": ["RF"], "as": ["s", "v"]}], "mark": {"type": "point", "shape": "diamond", "size": 80, "filled": false, "color": "#DAA520", "strokeWidth": 1, "opacity": 0.85}},
  {"data": {"name": "dd"}, "transform": [{"fold": ["IDW"], "as": ["s", "v"]}], "mark": {"type": "point", "shape": "circle", "size": 20, "filled": false, "color": "#000000", "strokeWidth": 1, "opacity": 1}},
  {"data": {"name": "dd"}, "transform": [{"fold": ["UK"], "as": ["s", "v"]}], "mark": {"type": "point", "shape": "triangle-up", "size": 60, "filled": false, "color": "#FF0000", "strokeWidth": 1, "opacity": 1}},
  {"data": {"name": "dd"}, "transform": [{"fold": ["Down"], "as": ["s", "v"]}], "mark": {"type": "point", "shape": "M-1,-1L1,1M-1,1L1,-1", "size": 36, "filled": false, "color": "#0000FF", "strokeWidth": 1, "opacity": 1}},
  {"data": {"name": "ld"}, "transform": [{"fold": ["IDW"], "as": ["s", "v"]}], "mark": {"type": "line", "color": "#000000", "strokeWidth": 2.5}},
  {"data": {"name": "ld"}, "transform": [{"fold": ["UK"], "as": ["s", "v"]}], "mark": {"type": "line", "color": "#FF0000", "strokeWidth": 2.5}},
  {"data": {"name": "ld"}, "transform": [{"fold": ["Down"], "as": ["s", "v"]}], "mark": {"type": "line", "color": "#0000FF", "strokeWidth": 2.5}},
  {"data": {"name": "ld"}, "transform": [{"fold": ["RF"], "as": ["s", "v"]}], "mark": {"type": "line", "color": "#DAA520", "strokeWidth": 2}}
 ]}
], "spacing": 72, "bounds": "flush"}
],
"config": {
 "view": {"stroke": "#333333", "strokeWidth": 1},
 "font": "Liberation Sans",
 "axis": {"grid": false, "domain": false, "ticks": true, "tickColor": "#333333", "tickSize": 8, "tickWidth": 1, "labelFont": "Liberation Sans", "labelFontSize": 14, "labelColor": "#222222", "titleFont": "Liberation Sans", "titleFontSize": 19, "titleFontWeight": "normal", "titleColor": "#000000", "labelFlush": false, "labelOverlap": false},
 "axisX": {"labelPadding": 10, "titlePadding": 12},
 "axisY": {"labelAngle": 270, "labelAlign": "center", "labelBaseline": "bottom", "labelPadding": 7, "titlePadding": 16},
 "title": {"font": "Liberation Sans", "fontSize": 18, "fontWeight": "bold", "color": "#000000", "anchor": "middle", "frame": "group", "offset": 19, "baseline": "top"}
}
}
